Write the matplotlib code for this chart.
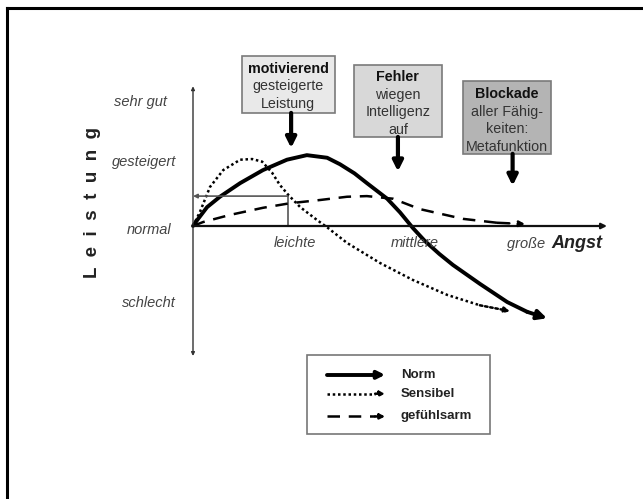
import numpy as np
import matplotlib
matplotlib.use("Agg")
import matplotlib.pyplot as plt
from matplotlib.patches import Rectangle
from matplotlib.lines import Line2D

plt.rcParams['font.family'] = ['Liberation Sans', 'DejaVu Sans']

# Kurven (x = Angst 0..10, y = Leistung, 0 = normal)
norm_x = [0, 0.10, 0.34, 0.65, 1.14, 1.69, 2.27, 2.75, 3.24, 3.55, 3.90, 4.20,
          4.69, 5.00, 5.31, 5.60, 5.95, 6.28, 6.93, 7.59, 8.07, 8.55]
norm_y = [0, 0.09, 0.29, 0.45, 0.66, 0.86, 1.02, 1.09, 1.05, 0.95, 0.81, 0.66,
          0.42, 0.21, -0.03, -0.23, -0.43, -0.60, -0.89, -1.17, -1.32, -1.42]

sens_x = [0, 0.17, 0.41, 0.73, 1.14, 1.43, 1.67, 1.91, 2.10, 2.30, 2.59, 3.00,
          3.24, 3.72, 4.52, 5.31, 6.14, 6.93, 7.66]
sens_y = [0, 0.22, 0.60, 0.86, 1.02, 1.03, 0.99, 0.82, 0.63, 0.48, 0.29, 0.09,
          -0.02, -0.26, -0.57, -0.83, -1.06, -1.22, -1.31]

arm_x = [0, 0.24, 0.89, 1.69, 2.34, 3.07, 3.72, 4.20, 4.83, 5.48, 6.52, 7.34, 8.02]
arm_y = [0, 0.06, 0.17, 0.28, 0.35, 0.40, 0.45, 0.46, 0.42, 0.26, 0.11, 0.05, 0.03]

series_names = ["Norm", "Sensibel", "gefühlsarm"]
level_labels = ["sehr gut", "gesteigert", "normal", "schlecht"]
level_values = [1.91, 0.98, -0.06, -1.18]
angst_labels = ["leichte", "mittlere"]
angst_values = [2.46, 5.36]
ref_point = (2.29, 0.46)

box_texts = [["motivierend", "gesteigerte", "Leistung"],
             ["Fehler", "wiegen", "Intelligenz", "auf"],
             ["Blockade", "aller Fähig-", "keiten:", "Metafunktion"]]

# Pixel-Raster -> Datenkoordinaten
X0, Y0, SX, SY = 193, 226, 41.4, 65.0
W, H = 643, 499

fig = plt.figure(figsize=(W / 100, H / 100), dpi=100)
ax = fig.add_axes([0, 0, 1, 1])
ax.set_xlim(-X0 / SX, (W - X0) / SX)
ax.set_ylim((Y0 - H) / SY, Y0 / SY)
ax.axis('off')

# Rahmen oben/links
fig.add_artist(Line2D([6.5 / W, 1], [1 - 7.5 / H] * 2, color='black', lw=2.2,
                      transform=fig.transFigure))
fig.add_artist(Line2D([6.5 / W] * 2, [0, 1 - 7.5 / H], color='black', lw=2.2,
                      transform=fig.transFigure))

# Achsen
ax.annotate('', xy=(0, 2.15), xytext=(0, -2.0),
            arrowprops=dict(arrowstyle='<|-|>', lw=1.0, color='#333333',
                            mutation_scale=5, shrinkA=0, shrinkB=0))
ax.annotate('', xy=(10.0, 0), xytext=(0, 0),
            arrowprops=dict(arrowstyle='-|>', lw=1.6, color='#111111',
                            mutation_scale=8, shrinkA=0, shrinkB=0))

# Hilfslinien
ax.annotate('', xy=(0, ref_point[1]), xytext=ref_point,
            arrowprops=dict(arrowstyle='-|>', lw=1.2, color='#555555',
                            mutation_scale=6, shrinkA=0, shrinkB=0))
ax.plot([ref_point[0]] * 2, [0, ref_point[1]], color='#555555', lw=1.2)

styles = {
    "Norm": dict(ls='-', lw=2.8, head=14),
    "Sensibel": dict(ls=(0, (1, 1.1)), lw=1.8, head=8),
    "gefühlsarm": dict(ls=(0, (5, 3.5)), lw=1.8, head=8),
}
curves = {"Norm": (norm_x, norm_y), "Sensibel": (sens_x, sens_y),
          "gefühlsarm": (arm_x, arm_y)}


def draw_arrow_line(xs, ys, st):
    ax.plot(xs[:-1], ys[:-1], color='black', ls=st['ls'], lw=st['lw'],
            solid_capstyle='round', solid_joinstyle='round',
            dash_capstyle='butt')
    ax.annotate('', xy=(xs[-1], ys[-1]), xytext=(xs[-2], ys[-2]),
                arrowprops=dict(arrowstyle='-|>', lw=st['lw'], color='black',
                                ls=st['ls'], mutation_scale=st['head'],
                                shrinkA=0, shrinkB=0))


for name in series_names:
    xs, ys = curves[name]
    draw_arrow_line(xs, ys, styles[name])

# Beschriftungen Leistung
level_x = [-1.28, -1.17, -1.06, -1.07]
for lab, val, lx in zip(level_labels, level_values, level_x):
    ax.text(lx, val, lab, ha='center', va='center', style='italic',
            fontsize=10.5, color='#444444')

ax.text(-2.42, 0.36, "L  e  i  s  t  u  n  g", rotation=90, ha='center',
        va='center', fontsize=13.5, fontweight='bold', color='#222222')

# Beschriftungen Angst
for lab, val in zip(angst_labels, angst_values):
    ax.text(val, -0.26, lab, ha='center', va='center', style='italic',
            fontsize=10.5, color='#444444')
ax.text(8.61, -0.27, "große ", ha='right', va='center', style='italic',
        fontsize=10.5, color='#444444')
ax.text(8.65, -0.27, "Angst", ha='left', va='center', style='italic',
        fontweight='bold', fontsize=13, color='#222222')

# Kästen mit Pfeilen
box_rects = [(1.18, 1.74, 2.25, 0.88), (3.89, 1.37, 2.12, 1.11),
             (6.52, 1.11, 2.13, 1.12)]
box_colors = ['#e9e9e9', '#d8d8d8', '#b4b4b4']
box_first = [2.42, 2.29, 2.03]
box_arrows = [(2.37, 1.20), (4.95, 0.84), (7.72, 0.62)]
for lines, (bx, by, bw, bh), fc, y1, (axx, ay) in zip(
        box_texts, box_rects, box_colors, box_first, box_arrows):
    ax.add_patch(Rectangle((bx, by), bw, bh, facecolor=fc, edgecolor='#7a7a7a',
                           lw=1.2, zorder=3))
    for i, line in enumerate(lines):
        ax.text(bx + bw / 2, y1 - i * 0.27, line, ha='center', va='center',
                fontsize=10.3, zorder=4,
                fontweight='bold' if i == 0 else 'normal',
                color='#111111' if i == 0 else '#333333')
    ax.annotate('', xy=(axx, ay), xytext=(axx, by),
                arrowprops=dict(arrowstyle='-|>', lw=3.0, color='black',
                                mutation_scale=15, shrinkA=0, shrinkB=0),
                zorder=5)

# Legende
ax.add_patch(Rectangle((2.75, -3.2), 4.42, 1.22, facecolor='white',
                       edgecolor='#777777', lw=1.2))
leg_y = [-2.29, -2.58, -2.93]
for name, ly in zip(series_names, leg_y):
    st = dict(styles[name])
    st['head'] = 11 if name == "Norm" else 7
    draw_arrow_line([3.24, 4.40, 4.64], [ly, ly, ly], st)
    ax.text(5.02, ly, name, ha='left', va='center', fontsize=9.5,
            fontweight='bold', color='#222222')

fig.savefig("out.png", dpi=100)
